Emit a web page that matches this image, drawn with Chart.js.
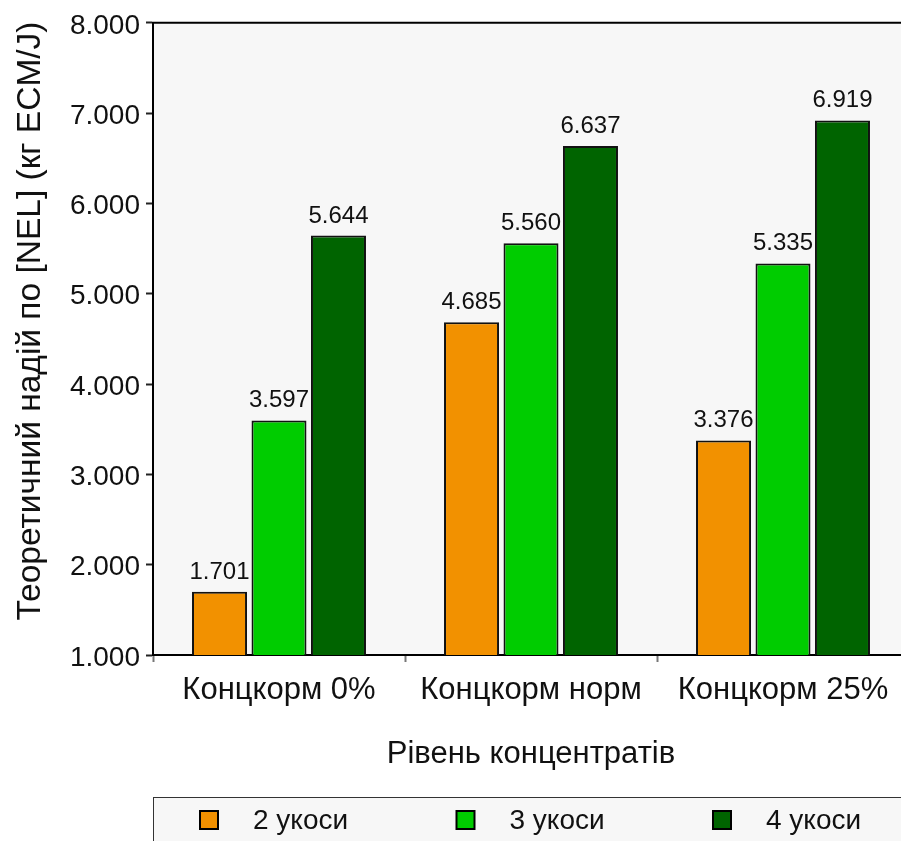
<!DOCTYPE html>
<html>
<head>
<meta charset="utf-8">
<script src="https://cdn.jsdelivr.net/npm/chart.js@4/dist/chart.umd.min.js"></script>
<style>
  html, body { margin: 0; padding: 0; background: #ffffff; overflow: hidden; width: 901px; height: 841px; }
  #wrap { width: 912px; height: 841px; position: relative; }
</style>
</head>
<body>
<div id="wrap"><canvas id="c" width="912" height="841"></canvas></div>
<script>
// Categories, series and tick values
const categories = ['Концкорм 0%', 'Концкорм норм', 'Концкорм 25%'];
const seriesNames = ['2 укоси', '3 укоси', '4 укоси'];
const cuts2 = [1.701, 4.685, 3.376];
const cuts3 = [3.597, 5.560, 5.335];
const cuts4 = [5.644, 6.637, 6.919];
const yTickValues = [1, 2, 3, 4, 5, 6, 7, 8];
const yTitle = 'Теоретичний надій по [NEL] (кг ECM/J)';
const xTitle = 'Рівень концентратів';

const seriesColors = ['#f29100', '#00cc00', '#006400'];
const FONT = "'Liberation Sans', Arial, Helvetica, sans-serif";
const fmt = v => Number(v).toFixed(3);

// Plot background, the top frame line and the vertical axis title
const frame = {
  id: 'frame',
  beforeDraw(chart) {
    const { ctx, chartArea: a } = chart;
    ctx.save();
    ctx.fillStyle = '#f7f7f7';
    ctx.fillRect(a.left, a.top, a.right - a.left, a.bottom - a.top);
    ctx.restore();
  },
  afterDraw(chart) {
    const { ctx, chartArea: a } = chart;
    ctx.save();
    ctx.strokeStyle = '#000';
    ctx.lineWidth = 2;
    ctx.beginPath();
    ctx.moveTo(a.left - 1, a.top);
    ctx.lineTo(chart.width, a.top);
    ctx.stroke();

    ctx.translate(31, 321);
    ctx.rotate(-Math.PI / 2);
    ctx.font = '33.5px ' + FONT;
    ctx.fillStyle = '#111';
    ctx.textAlign = 'center';
    ctx.textBaseline = 'middle';
    ctx.fillText(yTitle, 0, 0);
    ctx.restore();
  }
};

// Value labels above each bar
const valueLabels = {
  id: 'valueLabels',
  afterDatasetsDraw(chart) {
    const { ctx } = chart;
    ctx.save();
    ctx.font = '24px ' + FONT;
    ctx.fillStyle = '#111';
    ctx.textAlign = 'center';
    ctx.textBaseline = 'alphabetic';
    chart.data.datasets.forEach((ds, di) => {
      chart.getDatasetMeta(di).data.forEach((el, i) => {
        ctx.fillText(fmt(ds.data[i]), el.x, el.y - 13);
      });
    });
    ctx.restore();
  }
};

// Boxed legend row under the axis title
const boxLegend = {
  id: 'boxLegend',
  afterDraw(chart) {
    const { ctx, chartArea: a } = chart;
    ctx.save();
    ctx.fillStyle = '#f7f7f7';
    ctx.strokeStyle = '#333';
    ctx.lineWidth = 1;
    ctx.fillRect(a.left, 797, chart.width - a.left + 10, 60);
    ctx.strokeRect(a.left + 0.5, 797.5, chart.width - a.left + 10, 60);
    ctx.font = '28px ' + FONT;
    ctx.textAlign = 'left';
    ctx.textBaseline = 'middle';
    chart.data.datasets.forEach((ds, i) => {
      const sx = 200 + i * 256.5;
      ctx.fillStyle = ds.backgroundColor;
      ctx.fillRect(sx, 811, 18, 18);
      ctx.strokeStyle = '#000';
      ctx.lineWidth = 2;
      ctx.strokeRect(sx, 811, 18, 18);
      ctx.fillStyle = '#111';
      ctx.fillText(ds.label, sx + 53, 821);
    });
    ctx.restore();
  }
};

const barStyle = {
  borderColor: '#111',
  borderWidth: 2,
  borderSkipped: false,
  barPercentage: 0.925,
  categoryPercentage: 0.708
};

new Chart(document.getElementById('c'), {
  type: 'bar',
  data: {
    labels: categories,
    datasets: [
      { label: seriesNames[0], data: cuts2, backgroundColor: seriesColors[0], ...barStyle },
      { label: seriesNames[1], data: cuts3, backgroundColor: seriesColors[1], ...barStyle },
      { label: seriesNames[2], data: cuts4, backgroundColor: seriesColors[2], ...barStyle }
    ]
  },
  options: {
    responsive: false,
    animation: false,
    layout: { padding: { top: 20, right: 3, left: 0, bottom: 0 } },
    plugins: { legend: { display: false }, tooltip: { enabled: false } },
    scales: {
      x: {
        grid: { display: true, drawOnChartArea: false, drawTicks: true, tickLength: 7, tickColor: '#777', tickWidth: 2, offset: true },
        border: { display: true, color: '#000', width: 2 },
        ticks: { color: '#111', font: { family: FONT, size: 31 }, padding: 10, maxRotation: 0, autoSkip: false },
        title: { display: true, text: xTitle, color: '#111', font: { family: FONT, size: 31 }, padding: { top: 0, bottom: 68 } },
        afterFit(scale) { scale.height = 186; }
      },
      y: {
        min: 1,
        max: 8,
        afterBuildTicks(scale) { scale.ticks = yTickValues.map(v => ({ value: v })); },
        grid: { display: true, drawOnChartArea: false, drawTicks: true, tickLength: 7, tickColor: '#222', tickWidth: 2 },
        border: { display: true, color: '#000', width: 2 },
        ticks: { color: '#111', font: { family: FONT, size: 28 }, padding: 6, labelOffset: 3, callback: v => fmt(v) },
        title: { display: false },
        afterFit(scale) { scale.width = 153; }
      }
    }
  },
  plugins: [frame, valueLabels, boxLegend]
});
</script>
</body>
</html>
